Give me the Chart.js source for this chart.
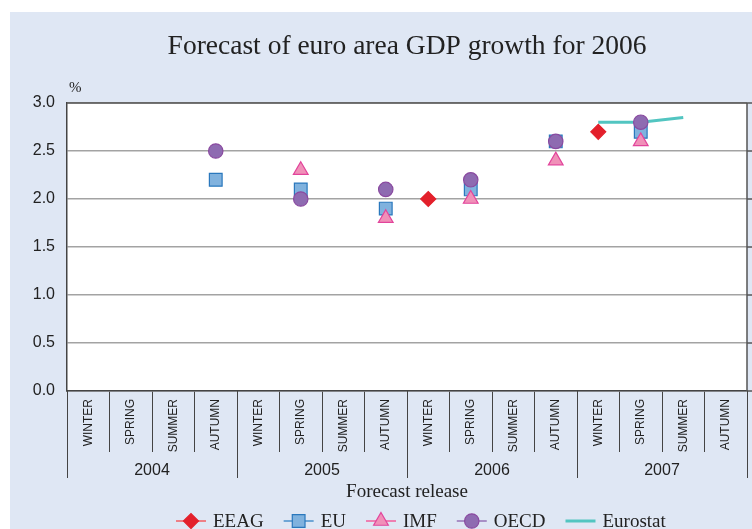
<!DOCTYPE html>
<html>
<head>
<meta charset="utf-8">
<script src="https://cdn.jsdelivr.net/npm/chart.js@4.4.1/dist/chart.umd.min.js"></script>
<style>
  html, body { margin: 0; padding: 0; background: #fff; }
  canvas { display: block; }
</style>
</head>
<body>
<canvas id="gdp-chart" width="752" height="529"></canvas>
<script>
const seasons = ["WINTER", "SPRING", "SUMMER", "AUTUMN"];
const years = ["2004", "2005", "2006", "2007"];
const releases = years.flatMap(() => seasons);

// one value per forecast release, null = no forecast
const eeag     = [null, null, null, null, null, null, null, null, 2.0, null, null, null, 2.7, null, null, null];
const eu       = [null, null, null, 2.2,  null, 2.1,  null, 1.9,  null, 2.1,  null, 2.6,  null, 2.7,  null, null];
const imf      = [null, null, null, null, null, 2.3,  null, 1.8,  null, 2.0,  null, 2.4,  null, 2.6,  null, null];
const oecd     = [null, null, null, 2.5,  null, 2.0,  null, 2.1,  null, 2.2,  null, 2.6,  null, 2.8,  null, null];
const eurostat = [null, null, null, null, null, null, null, null, null, null, null, null, 2.8,  2.8,  2.85, null];

const yTicks = [0, 0.5, 1.0, 1.5, 2.0, 2.5, 3.0];

const SERIF = "'Liberation Serif', 'DejaVu Serif', serif";
const SANS = "'Liberation Sans', Arial, sans-serif";

function markerSet(label, data, style, radius, fill, border, legendLine, order) {
  return {
    label, data, order,
    showLine: false,
    pointStyle: style,
    pointRadius: radius,
    pointHoverRadius: radius,
    pointBackgroundColor: fill,
    pointBorderColor: border,
    pointBorderWidth: 1.2,
    backgroundColor: fill,
    borderColor: border,
    legendLine
  };
}

const decorations = {
  id: "decorations",
  beforeDraw(chart) {
    const { ctx, chartArea } = chart;
    ctx.save();
    ctx.fillStyle = "#dfe7f4";
    ctx.fillRect(10, 12, chart.width - 10, chart.height - 12);
    ctx.fillStyle = "#ffffff";
    ctx.fillRect(chartArea.left, chartArea.top, chartArea.right - chartArea.left, chartArea.bottom - chartArea.top);
    ctx.restore();
  },
  afterDraw(chart) {
    const { ctx, chartArea } = chart;
    const x = chart.scales.x;
    const y = chart.scales.y;
    const step = x.getPixelForValue(1) - x.getPixelForValue(0);
    ctx.save();

    // plot frame (top and right) and right-side tick marks
    ctx.strokeStyle = "#555";
    ctx.lineWidth = 1.5;
    ctx.beginPath();
    ctx.moveTo(chartArea.left, chartArea.top);
    ctx.lineTo(chartArea.right, chartArea.top);
    ctx.lineTo(chartArea.right, chartArea.bottom);
    yTicks.forEach((v) => {
      const py = y.getPixelForValue(v);
      ctx.moveTo(chartArea.right, py);
      ctx.lineTo(chartArea.right + 5, py);
    });
    ctx.stroke();

    // year separators and year labels
    ctx.strokeStyle = "#444";
    ctx.lineWidth = 1;
    ctx.beginPath();
    for (let i = 0; i <= years.length; i++) {
      const px = Math.round(x.getPixelForValue(i * 4) - step / 2) + 0.5;
      ctx.moveTo(px, chartArea.bottom);
      ctx.lineTo(px, chartArea.bottom + 87);
    }
    ctx.stroke();
    ctx.fillStyle = "#222";
    ctx.font = "16px " + SANS;
    ctx.textAlign = "center";
    ctx.textBaseline = "middle";
    years.forEach((yr, i) => {
      const cx = (x.getPixelForValue(i * 4) + x.getPixelForValue(i * 4 + 3)) / 2;
      ctx.fillText(yr, cx, chartArea.bottom + 80);
    });

    // axis captions and title
    const mid = (chartArea.left + chartArea.right) / 2;
    ctx.font = "19px " + SERIF;
    ctx.fillText("Forecast release", mid, chartArea.bottom + 101);
    ctx.font = "27.5px " + SERIF;
    ctx.fillText("Forecast of euro area GDP growth for 2006", mid, 47);
    ctx.font = "15px " + SERIF;
    ctx.textAlign = "left";
    ctx.fillText("%", chartArea.left + 2, 88);

    // legend: line with marker, then label
    ctx.font = "19px " + SERIF;
    let lx = 176;
    const ly = chartArea.bottom + 130;
    chart.data.datasets.forEach((ds) => {
      ctx.lineWidth = ds.showLine ? 3 : 2;
      ctx.strokeStyle = ds.legendLine;
      ctx.beginPath();
      ctx.moveTo(lx, ly);
      ctx.lineTo(lx + 30, ly);
      ctx.stroke();
      if (!ds.showLine) {
        ctx.fillStyle = ds.pointBackgroundColor;
        ctx.strokeStyle = ds.pointBorderColor;
        ctx.lineWidth = ds.pointBorderWidth;
        Chart.helpers.drawPoint(ctx, {
          pointStyle: ds.pointStyle,
          radius: ds.pointRadius,
          rotation: 0,
          borderWidth: ds.pointBorderWidth
        }, lx + 15, ly);
      }
      ctx.fillStyle = "#222";
      ctx.textAlign = "left";
      ctx.fillText(ds.label, lx + 37, ly + 1);
      lx += 37 + ctx.measureText(ds.label).width + 20;
    });
    ctx.restore();
  }
};

new Chart(document.getElementById("gdp-chart"), {
  type: "line",
  data: {
    labels: releases,
    datasets: [
      markerSet("EEAG", eeag, "rectRot", 7.5, "#e3202b", "#e3202b", "#ee7f86", 3),
      markerSet("EU", eu, "rect", 9, "#80b2de", "#2a78bd", "#6fa6d6", 2),
      markerSet("IMF", imf, "triangle", 8.5, "#f090b8", "#e2449b", "#ee7fb2", 1),
      markerSet("OECD", oecd, "circle", 7.2, "#8e6bb1", "#8a4aa0", "#a890c6", 0),
      {
        label: "Eurostat",
        data: eurostat,
        order: 4,
        showLine: true,
        borderColor: "#52c5c1",
        borderWidth: 3,
        pointRadius: 0,
        pointHoverRadius: 0,
        tension: 0,
        legendLine: "#52c5c1"
      }
    ]
  },
  options: {
    responsive: false,
    animation: false,
    events: [],
    layout: { autoPadding: false, padding: { left: 10, right: 5, top: 103, bottom: 0 } },
    plugins: {
      legend: { display: false },
      title: { display: false },
      tooltip: { enabled: false }
    },
    scales: {
      x: {
        type: "category",
        offset: true,
        grid: {
          offset: true,
          drawOnChartArea: false,
          drawTicks: true,
          tickLength: 61,
          color: "#444",
          lineWidth: 1
        },
        border: { color: "#444", width: 1.5 },
        ticks: {
          autoSkip: false,
          maxRotation: 90,
          minRotation: 90,
          padding: -53,
          color: "#222",
          font: { family: SANS, size: 12 }
        },
        afterFit(scale) { scale.height = 138; }
      },
      y: {
        min: 0,
        max: 3,
        afterBuildTicks(scale) { scale.ticks = yTicks.map((v) => ({ value: v })); },
        grid: { color: "#a3a3a3", lineWidth: 1.5, drawTicks: false },
        border: { color: "#444", width: 1.5 },
        ticks: {
          padding: 12,
          color: "#222",
          font: { family: SANS, size: 16 },
          callback: (v) => v.toFixed(1)
        },
        afterFit(scale) { scale.width = 57; }
      }
    }
  },
  plugins: [decorations]
});
</script>
</body>
</html>
